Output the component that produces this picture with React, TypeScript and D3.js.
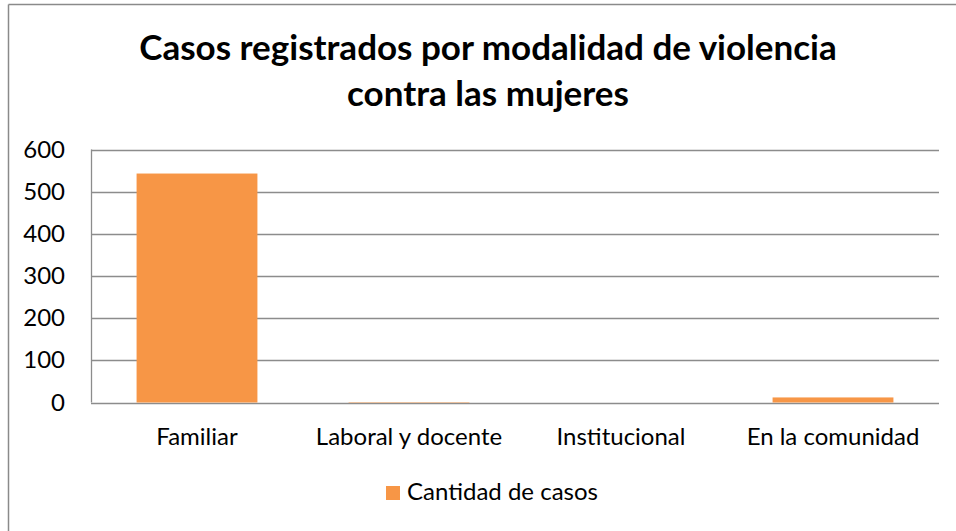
import React from "react";
import * as d3 from "d3";

const categories = ["Familiar", "Laboral y docente", "Institucional", "En la comunidad"];
const casos = [543, 1, 0, 12];
const yTicks = [0, 100, 200, 300, 400, 500, 600];
const titleLines = ["Casos registrados por modalidad de violencia", "contra las mujeres"];
const seriesName = "Cantidad de casos";

const W = 956;
const H = 531;
const FONT = "Lato, 'Open Sans', sans-serif";
const BAR = "#F79646";
const GRID = "#8C8C8C";

export default function App() {
  const x = d3
    .scaleBand<string>()
    .domain(categories)
    .range([91, 939])
    .paddingInner(0.43)
    .paddingOuter(0.215);
  const y = d3.scaleLinear().domain([0, 600]).range([402.5, 149.5]);

  return (
    <svg
      width={W}
      height={H}
      style={{ position: "absolute", left: 0, top: 0, background: "#fff" }}
      fontFamily={FONT}
    >
      <rect x={0} y={0} width={W} height={H} fill="#fff" />
      {/* outer frame (only left and top visible) */}
      <line x1={8.5} y1={4.5} x2={8.5} y2={H} stroke="#8a8a8a" strokeWidth={1.5} />
      <line x1={8.5} y1={4.5} x2={W} y2={4.5} stroke="#8a8a8a" strokeWidth={1.5} />

      {/* title */}
      {titleLines.map((t, i) => (
        <text
          key={i}
          x={488}
          y={60 + i * 46}
          textAnchor="middle"
          fontSize={35}
          fontWeight={700}
          fill="#000"
        >
          {t}
        </text>
      ))}

      {/* gridlines */}
      {yTicks.map((v) => (
        <line
          key={v}
          x1={91}
          x2={939}
          y1={Math.round(y(v)) + 0.5}
          y2={Math.round(y(v)) + 0.5}
          stroke={GRID}
          strokeWidth={1.3}
        />
      ))}
      <line x1={91.5} x2={91.5} y1={y(600)} y2={y(0)} stroke={GRID} strokeWidth={1.3} />

      {/* y tick labels */}
      {yTicks.map((v) => (
        <text key={v} x={65} y={y(v) + 8} textAnchor="end" fontSize={24} fill="#000">
          {v}
        </text>
      ))}

      {/* bars */}
      {categories.map((c, i) => (
        <rect
          key={c}
          x={x(c)}
          width={x.bandwidth()}
          y={y(casos[i])}
          height={y(0) - y(casos[i])}
          fill={BAR}
        />
      ))}

      {/* category labels */}
      {categories.map((c) => (
        <text
          key={c}
          x={(x(c) as number) + x.bandwidth() / 2}
          y={445}
          textAnchor="middle"
          fontSize={24}
          fill="#000"
        >
          {c}
        </text>
      ))}

      {/* legend */}
      <rect x={386} y={486} width={14} height={14} fill={BAR} />
      <text x={407} y={500} fontSize={24} fill="#000">
        {seriesName}
      </text>
    </svg>
  );
}
